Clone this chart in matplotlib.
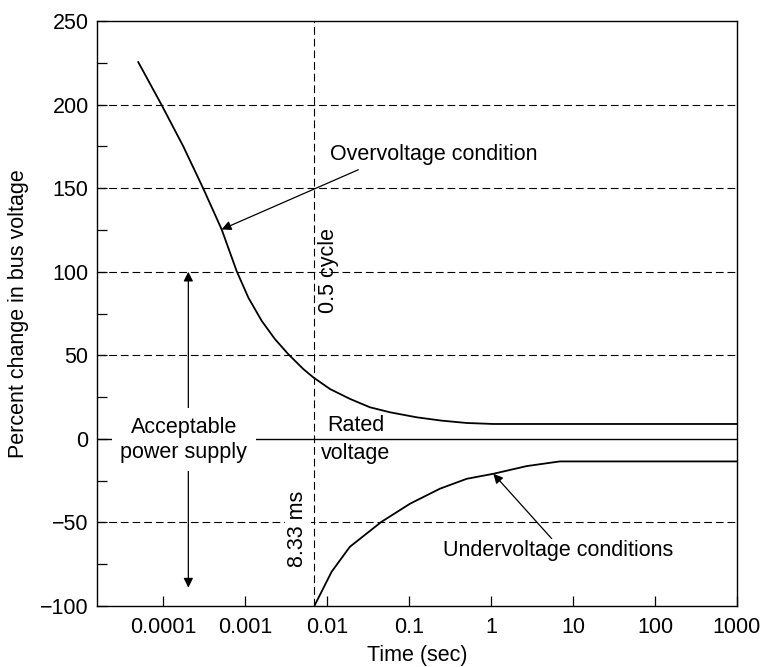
import matplotlib
matplotlib.use("Agg")
import matplotlib.pyplot as plt
from matplotlib.ticker import MultipleLocator, FixedLocator, NullLocator

plt.rcParams['font.family'] = ['Liberation Sans', 'DejaVu Sans']
FS = 15.5

# ---- data ----
over_t = [5.0e-5, 9.6e-5, 1.77e-4, 3.1e-4, 5.2e-4, 7.92e-4, 1.10e-3, 1.60e-3,
          2.32e-3, 3.37e-3, 5.14e-3, 6.81e-3, 0.0109, 0.0191, 0.0334, 0.0586,
          0.124, 0.25, 0.506, 1.07, 10, 100, 1000]
over_v = [225.4, 199.9, 175, 149.8, 125.3, 100.4, 84.5, 70.6,
          59.7, 50.7, 41.8, 36.8, 29.8, 23.9, 18.9, 15.9,
          12.9, 10.9, 9.5, 8.9, 8.9, 8.9, 8.9]

under_t = [7.1e-3, 0.0114, 0.019, 0.046, 0.103, 0.239, 0.506, 1.07, 2.72, 6.9, 100, 1000]
under_v = [-99.5, -79.5, -64.6, -49.7, -38.8, -29.8, -23.9, -20.9, -16.3, -13.5, -13.5, -13.5]

grid_levels = [200, 150, 100, 50, -50]
half_cycle_t = 0.0069
x_ticks = [1e-4, 1e-3, 1e-2, 1e-1, 1, 10, 100, 1000]
x_ticklabels = ['0.0001', '0.001', '0.01', '0.1', '1', '10', '100', '1000']

fig = plt.figure(figsize=(7.63, 6.67), dpi=100)
ax = fig.add_axes([97/763, 1 - 606/667, 640/763, 585/667])
ax.set_xscale('log')
ax.set_xlim(1.57e-5, 1000)
ax.set_ylim(-100, 250)

dash = (0, (7, 3.5))
for g in grid_levels:
    ax.axhline(g, color='black', lw=0.8, ls=dash, zorder=1)
ax.axhline(0, color='black', lw=1.0, zorder=1)
ax.axvline(half_cycle_t, color='black', lw=0.8, ls=dash, zorder=4)

ax.plot(over_t, over_v, color='black', lw=1.3, zorder=3)
ax.plot(under_t, under_v, color='black', lw=1.3, zorder=3)

# double arrow: acceptable power supply
ax.annotate('', xy=(2.04e-4, 100), xytext=(2.04e-4, -89),
            arrowprops=dict(arrowstyle='<|-|>', color='black', lw=0.9,
                            mutation_scale=14, shrinkA=0, shrinkB=0), zorder=2)
ax.text(1.79e-4, -0.5, 'Acceptable\npower supply', ha='center', va='center',
        fontsize=FS, linespacing=1.25, zorder=5,
        bbox=dict(facecolor='white', edgecolor='none', pad=6))

# overvoltage annotation
ax.annotate('', xy=(5.2e-4, 125.3), xytext=(0.0241, 161),
            arrowprops=dict(arrowstyle='-|>', color='black', lw=0.9,
                            mutation_scale=14, shrinkA=0, shrinkB=0), zorder=5)
ax.text(0.0109, 170, 'Overvoltage condition', ha='left', va='center', fontsize=FS)

# undervoltage annotation
ax.annotate('', xy=(1.07, -20.9), xytext=(5.5, -59.7),
            arrowprops=dict(arrowstyle='-|>', color='black', lw=0.9,
                            mutation_scale=14, shrinkA=0, shrinkB=0), zorder=5)
ax.text(0.26, -66.8, 'Undervoltage conditions', ha='left', va='center', fontsize=FS)

ax.text(0.01, 7.8, 'Rated', ha='left', va='center', fontsize=FS)
ax.text(0.00845, -9, 'voltage', ha='left', va='center', fontsize=FS)
ax.text(0.0103, 101, '0.5 cycle', rotation=90, ha='center', va='center', fontsize=FS)
ax.text(0.00443, -53.7, '8.33 ms', rotation=90, ha='center', va='center', fontsize=FS,
        zorder=3, bbox=dict(facecolor='white', edgecolor='none', pad=2))

ax.xaxis.set_major_locator(FixedLocator(x_ticks))
ax.set_xticklabels(x_ticklabels)
ax.xaxis.set_minor_locator(NullLocator())
ax.yaxis.set_major_locator(MultipleLocator(50))
ax.yaxis.set_minor_locator(MultipleLocator(25))
ax.tick_params(axis='both', which='both', direction='in', length=7, width=0.9,
               labelsize=FS, top=False, right=False)
ax.tick_params(axis='x', pad=8)
ax.tick_params(axis='y', pad=6)
for s in ax.spines.values():
    s.set_linewidth(1.0)

ax.set_xlabel('Time (sec)', fontsize=FS, labelpad=5)
ax.set_ylabel('Percent change in bus voltage', fontsize=FS, labelpad=8)

fig.savefig('out.png', dpi=100)
